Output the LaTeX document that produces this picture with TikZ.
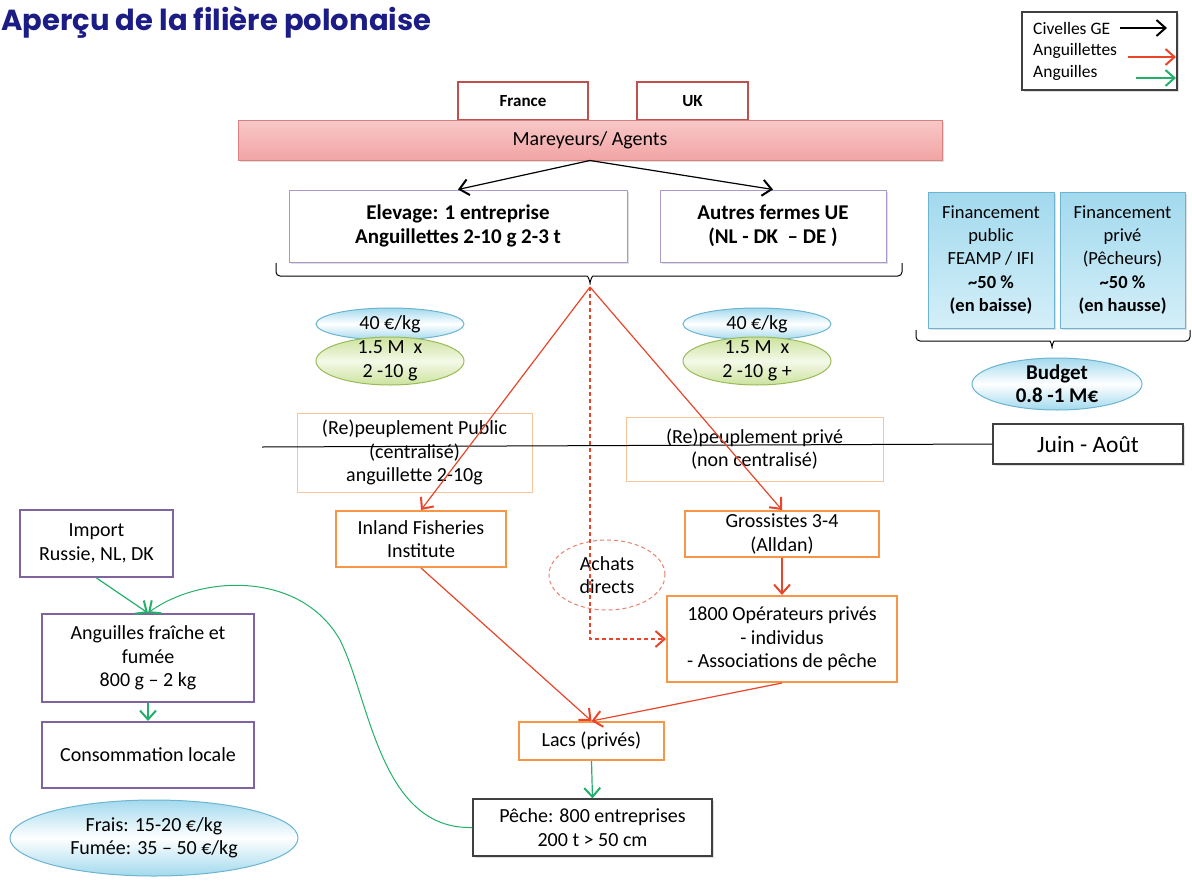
\documentclass[tikz,border=0pt]{standalone}
\usepackage{fontspec}
\setmainfont{Carlito}
\newfontfamily\titlefont{Poppins}
\usepackage[dvipsnames,svgnames]{xcolor}
\usetikzlibrary{arrows.meta,shapes.geometric,shadows}

\definecolor{titleblue}{HTML}{1C1C86}
\definecolor{cntred}{HTML}{C0504D}
\definecolor{agentline}{HTML}{D98080}
\definecolor{agenttop}{HTML}{F8C8C8}
\definecolor{agentbot}{HTML}{F2A4A4}
\definecolor{farmline}{HTML}{A898CC}
\definecolor{skyline}{HTML}{6CB4D0}
\definecolor{skyfill}{HTML}{A2D9EE}
\definecolor{skypale}{HTML}{D4EFF8}
\definecolor{limeline}{HTML}{9BBB59}
\definecolor{limefill}{HTML}{CCE29C}
\definecolor{limepale}{HTML}{F4F9E8}
\definecolor{paleorange}{HTML}{F8C49C}
\definecolor{orangeline}{HTML}{F79646}
\definecolor{purpleline}{HTML}{8064A2}
\definecolor{darkline}{HTML}{404040}
\definecolor{flowred}{HTML}{E8452A}
\definecolor{achred}{HTML}{E8806E}
\definecolor{flowgreen}{HTML}{23B06A}

\begin{document}
\begin{tikzpicture}[x=1pt,y=-1pt,
	every node/.style={font=\fontsize{20}{23.5}\selectfont,align=center,inner sep=2pt},
	shade box/.style={drop shadow={shadow xshift=1.5pt,shadow yshift=-1.5pt,opacity=.25}},
	cntbox/.style={draw=cntred,line width=1.8pt,fill=white},
	agentbar/.style={draw=agentline,line width=1pt,top color=agenttop,bottom color=agentbot,shade box},
	farmbox/.style={draw=farmline,line width=1pt,fill=white,shade box},
	fundbox/.style={draw=skyline,line width=1pt,top color=skyfill,bottom color=skypale,shade box},
	paleorg/.style={draw=paleorange,line width=1pt},
	orgbox/.style={draw=orangeline,line width=2pt,fill=white},
	purplebox/.style={draw=purpleline,line width=2pt,fill=white},
	plainbox/.style={draw=darkline,line width=1.3pt,fill=white,shade box},
	skyell/.style={ellipse,draw=skyline,line width=1pt,top color=skyfill,bottom color=skyfill,middle color=white,inner sep=-6pt},
	limeell/.style={ellipse,draw=limeline,line width=1pt,top color=limefill,bottom color=limefill,middle color=limepale,inner sep=-6pt},
	legtext/.style={font=\fontsize{17.5}{21}\selectfont,anchor=west,inner sep=0},
	redflow/.style={draw=flowred,line width=1.2pt,-{Straight Barb[length=9pt,width=16pt,line width=2pt]}},
	greenflow/.style={draw=flowgreen,line width=1.2pt,-{Straight Barb[length=9pt,width=16pt,line width=2pt]}},
	blackflow/.style={draw=black,line width=1.2pt,-{Straight Barb[length=9pt,width=16pt,line width=2pt]}},
	bracket/.style={draw=black,line width=1pt,rounded corners=4pt}
	]
	\useasboundingbox (0,0) rectangle (1192,881);
	\node[font=\titlefont\bfseries\fontsize{29}{34}\selectfont,text=titleblue,anchor=base west,inner sep=0] (title) at (1,30) {Aperçu de la filière polonaise};

	\node[draw=darkline,line width=1.3pt,minimum width=155,minimum height=78,shade box,fill=white] (legend) at (1099.5,51) {};
	\node[legtext] (civ) at (1033,28) {Civelles GE};
	\node[legtext] (agtt) at (1033,51) {Anguillettes};
	\node[legtext] (ang) at (1033,73) {Anguilles};
	\coordinate (civA) at (1120,28); \coordinate (civB) at (1167,28);
	\coordinate (agttA) at (1128,57); \coordinate (agttB) at (1176,57);
	\coordinate (angA) at (1136,78); \coordinate (angB) at (1176,78);
	\draw[blackflow] (civA) -- (civB);
	\draw[redflow] (agttA) -- (agttB);
	\draw[greenflow] (angA) -- (angB);

	\node[cntbox,minimum width=130,minimum height=38,font=\bfseries\fontsize{17}{20}\selectfont] (france) at (523,101) {France};
	\node[cntbox,minimum width=111,minimum height=38,font=\bfseries\fontsize{17}{20}\selectfont] (uk) at (692.5,101) {UK};
	\node[agentbar,minimum width=704,minimum height=40] (agents) at (590,140) {Mareyeurs/ Agents};

	\node[farmbox,minimum width=338,minimum height=72,font=\bfseries\fontsize{21}{24}\selectfont] (elevage) at (458,226) {Elevage: 1 entreprise\\Anguillettes 2-10 g 2-3 t};
	\node[farmbox,minimum width=226,minimum height=72,font=\bfseries\fontsize{21}{24}\selectfont] (autres) at (773,226) {Autres fermes UE\\(NL - DK~~-- DE )};
	\draw[blackflow] (agents.south) -- (elevage.north);
	\draw[blackflow] (agents.south) -- (autres.north);

	\node[fundbox,minimum width=126,minimum height=136,font=\fontsize{18.5}{23.3}\selectfont] (finpub) at (991,260) {Financement\\public\\FEAMP / IFI\\\textbf{\textasciitilde50 \%}\\\textbf{(en baisse)}};
	\node[fundbox,minimum width=125,minimum height=136,font=\fontsize{18.5}{23.3}\selectfont] (finpriv) at (1122.5,260) {Financement\\privé\\(Pêcheurs)\\\textbf{\textasciitilde50 \%}\\\textbf{(en hausse)}};
	\node[skyell,minimum width=170,minimum height=52,font=\bfseries\fontsize{21}{23}\selectfont] (budget) at (1057,384) {Budget\\0.8 -1 M€};

	\draw[bracket] (276,263) -- (276,276) -- (583,276) to[out=0,in=90] (590,287) to[out=90,in=180] (597,276) -- (902,276) -- (902,263);
	\coordinate (split) at (590,287);
	\draw[bracket] (916,330) -- (916,341) -- (1046,341) to[out=0,in=90] (1052,351) to[out=90,in=180] (1058,341) -- (1190,341) -- (1190,330);

	\node[skyell,minimum width=148,minimum height=32] (eurL) at (390,324) {40 €/kg};
	\node[limeell,minimum width=148,minimum height=48] (qtyL) at (390,361) {1.5 M\ \ x\\2 -10 g};
	\node[skyell,minimum width=148,minimum height=32] (eurR) at (757,324) {40 €/kg};
	\node[limeell,minimum width=148,minimum height=48] (qtyR) at (757,361) {1.5 M\ \ x\\2 -10 g +};

	\node[paleorg,minimum width=235,minimum height=79] (pubrep) at (414.5,452.5) {(Re)peuplement Public\\(centralisé)\\anguillette 2-10g};
	\node[paleorg,minimum width=257,minimum height=64] (privrep) at (754.5,449) {(Re)peuplement privé\\(non centralisé)};
	\node[plainbox,minimum width=190,minimum height=40,font=\fontsize{23.5}{27}\selectfont] (juin) at (1088,444) {Juin - Août};
	\coordinate (juinL) at (262,447);
	\draw[line width=1pt] (juinL) -- (juin.west);

	\node[orgbox,minimum width=170,minimum height=56] (inland) at (421,539) {Inland Fisheries\\Institute};
	\node[orgbox,minimum width=194,minimum height=46] (gross) at (782,534) {Grossistes 3-4\\(Alldan)};
	\node[ellipse,draw=achred,line width=1pt,dash pattern=on 4pt off 3pt,minimum width=116,minimum height=70,inner sep=-6pt] (achats) at (607,575) {Achats\\directs};
	\node[orgbox,minimum width=230,minimum height=86] (oper) at (782,639) {1800 Opérateurs privés\\- individus\\- Associations de pêche};
	\node[orgbox,minimum width=145,minimum height=38] (lacs) at (591.5,741) {Lacs (privés)};
	\node[plainbox,minimum width=239,minimum height=57] (peche) at (592.5,827.5) {Pêche: 800 entreprises\\200 t > 50 cm};

	\draw[redflow] (split) -- (inland.north);
	\draw[redflow] (split) -- (gross.north);
	\draw[redflow,dash pattern=on 4pt off 3pt] (split) |- (oper.west);
	\draw[redflow] (gross.south) -- (oper.north);
	\draw[redflow] (inland.south) -- (lacs.north);
	\draw[redflow] (oper.south) -- (lacs.north);
	\draw[greenflow] (lacs.south) -- (peche.north);

	\node[purplebox,minimum width=153,minimum height=67] (import) at (96.5,543.5) {Import\\Russie, NL, DK};
	\node[purplebox,minimum width=212,minimum height=88] (fraiche) at (148,658) {Anguilles fraîche et\\fumée\\800 g -- 2 kg};
	\node[purplebox,minimum width=212,minimum height=66] (conso) at (148,755) {Consommation locale};
	\node[skyell,minimum width=288,minimum height=76] (prix) at (154,838) {Frais: 15-20 €/kg\\Fumée: 35 -- 50 €/kg};

	\draw[greenflow] (import.south) -- (fraiche.north);
	\draw[greenflow] (fraiche.south) -- (conso.north);
	\draw[greenflow,line width=1pt] (peche.west) .. controls (380,830) and (370,700) .. (340,640) .. controls (300,570) and (200,575) .. (fraiche.north);
\end{tikzpicture}
\end{document}
